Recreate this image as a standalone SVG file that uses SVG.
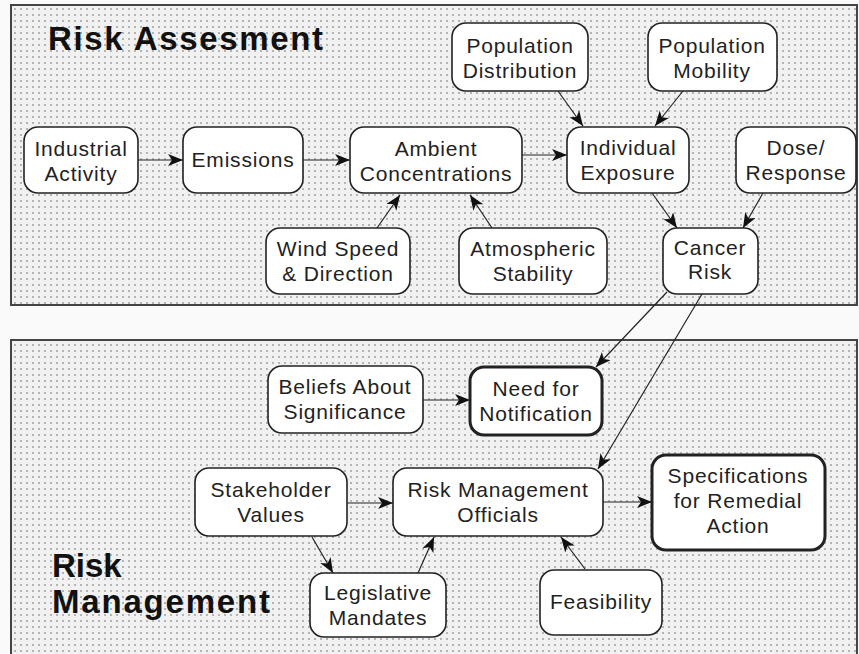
<svg xmlns="http://www.w3.org/2000/svg" width="859" height="654" viewBox="0 0 859 654">
  <defs>
    <pattern id="dots" width="6" height="6" patternUnits="userSpaceOnUse">
      <rect width="6" height="6" fill="#f1f1f1"/>
      <circle cx="3" cy="3" r="0.8" fill="#666"/>
    </pattern>
    <marker id="arrow" markerUnits="userSpaceOnUse" markerWidth="16" markerHeight="13" refX="15" refY="6" orient="auto">
      <path d="M0,0 L15,6 L0,12 L4,6 z" fill="#111"/>
    </marker>
    <style>
      .panel { fill: url(#dots); stroke: #444; stroke-width: 2; }
      .node { fill: #fff; stroke: #222; stroke-width: 1.6; }
      .node.bold { stroke-width: 3; }
      .lbl { font-family: "Liberation Sans", Arial, sans-serif; font-size: 21px; letter-spacing: 0.8px; fill: #222; text-anchor: middle; }
      .title { font-family: "Liberation Sans", Arial, sans-serif; font-size: 33px; font-weight: bold; fill: #111; }
      .edge { stroke: #222; stroke-width: 1.2; fill: none; marker-end: url(#arrow); }
    </style>
  </defs>

  <rect width="859" height="654" fill="#fafafa"/>

  <!-- panels -->
  <rect class="panel" x="11" y="5" width="846" height="300"/>
  <rect class="panel" x="11" y="340" width="846" height="320"/>

  <text class="title" x="48" y="50" textLength="275" lengthAdjust="spacing">Risk Assesment</text>
  <text class="title" x="52" y="577">Risk</text>
  <text class="title" x="52" y="613" textLength="218" lengthAdjust="spacing">Management</text>

  <!-- connectors -->
  <g id="connectors">
    <line class="edge" x1="138" y1="160" x2="183" y2="160"/>
    <line class="edge" x1="303" y1="160" x2="350" y2="160"/>
    <line class="edge" x1="522" y1="155" x2="567" y2="155"/>
    <line class="edge" x1="377" y1="228" x2="400" y2="195"/>
    <line class="edge" x1="492" y1="228" x2="470" y2="195"/>
    <line class="edge" x1="558" y1="91" x2="583" y2="126"/>
    <line class="edge" x1="683" y1="91" x2="655" y2="126"/>
    <line class="edge" x1="652" y1="193" x2="677" y2="228"/>
    <line class="edge" x1="763" y1="193" x2="743" y2="228"/>
    <line class="edge" x1="667" y1="292" x2="596" y2="367"/>
    <line class="edge" x1="702" y1="294" x2="598" y2="469"/>
    <line class="edge" x1="423" y1="400" x2="470" y2="400"/>
    <line class="edge" x1="347" y1="503" x2="393" y2="503"/>
    <line class="edge" x1="603" y1="502" x2="652" y2="502"/>
    <line class="edge" x1="312" y1="537" x2="333" y2="573"/>
    <line class="edge" x1="418" y1="573" x2="434" y2="537"/>
    <line class="edge" x1="585" y1="569" x2="561" y2="537"/>
  </g>

  <!-- risk assessment nodes -->
  <g id="industrial-activity">
    <rect class="node" x="24" y="127" width="114" height="66" rx="14"/>
    <text class="lbl" x="81" y="156">Industrial</text>
    <text class="lbl" x="81" y="181">Activity</text>
  </g>
  <g id="emissions">
    <rect class="node" x="183" y="127" width="120" height="66" rx="14"/>
    <text class="lbl" x="243" y="167">Emissions</text>
  </g>
  <g id="ambient-concentrations">
    <rect class="node" x="350" y="127" width="172" height="66" rx="14"/>
    <text class="lbl" x="436" y="156">Ambient</text>
    <text class="lbl" x="436" y="181">Concentrations</text>
  </g>
  <g id="population-distribution">
    <rect class="node" x="452" y="23" width="136" height="68" rx="14"/>
    <text class="lbl" x="520" y="53">Population</text>
    <text class="lbl" x="520" y="78">Distribution</text>
  </g>
  <g id="population-mobility">
    <rect class="node" x="648" y="23" width="129" height="68" rx="14"/>
    <text class="lbl" x="712" y="53">Population</text>
    <text class="lbl" x="712" y="78">Mobility</text>
  </g>
  <g id="individual-exposure">
    <rect class="node" x="567" y="127" width="122" height="66" rx="14"/>
    <text class="lbl" x="628" y="155">Individual</text>
    <text class="lbl" x="628" y="180">Exposure</text>
  </g>
  <g id="dose-response">
    <rect class="node" x="736" y="127" width="120" height="66" rx="14"/>
    <text class="lbl" x="796" y="155">Dose/</text>
    <text class="lbl" x="796" y="180">Response</text>
  </g>
  <g id="wind-speed">
    <rect class="node" x="266" y="228" width="144" height="66" rx="14"/>
    <text class="lbl" x="338" y="256">Wind Speed</text>
    <text class="lbl" x="338" y="281">&amp; Direction</text>
  </g>
  <g id="atmospheric-stability">
    <rect class="node" x="459" y="228" width="148" height="66" rx="14"/>
    <text class="lbl" x="533" y="256">Atmospheric</text>
    <text class="lbl" x="533" y="281">Stability</text>
  </g>
  <g id="cancer-risk">
    <rect class="node" x="663" y="228" width="95" height="66" rx="14"/>
    <text class="lbl" x="710" y="255">Cancer</text>
    <text class="lbl" x="710" y="279">Risk</text>
  </g>

  <!-- risk management nodes -->
  <g id="beliefs-about-significance">
    <rect class="node" x="268" y="366" width="155" height="67" rx="14"/>
    <text class="lbl" x="345" y="394">Beliefs About</text>
    <text class="lbl" x="345" y="419">Significance</text>
  </g>
  <g id="need-for-notification">
    <rect class="node bold" x="470" y="367" width="132" height="68" rx="14"/>
    <text class="lbl" x="536" y="396">Need for</text>
    <text class="lbl" x="536" y="421">Notification</text>
  </g>
  <g id="stakeholder-values">
    <rect class="node" x="195" y="468" width="152" height="68" rx="14"/>
    <text class="lbl" x="271" y="497">Stakeholder</text>
    <text class="lbl" x="271" y="522">Values</text>
  </g>
  <g id="risk-management-officials">
    <rect class="node" x="393" y="468" width="210" height="68" rx="14"/>
    <text class="lbl" x="498" y="497">Risk Management</text>
    <text class="lbl" x="498" y="522">Officials</text>
  </g>
  <g id="specifications-remedial-action">
    <rect class="node bold" x="652" y="455" width="173" height="95" rx="14"/>
    <text class="lbl" x="738" y="483">Specifications</text>
    <text class="lbl" x="738" y="508">for Remedial</text>
    <text class="lbl" x="738" y="533">Action</text>
  </g>
  <g id="legislative-mandates">
    <rect class="node" x="310" y="573" width="136" height="64" rx="14"/>
    <text class="lbl" x="378" y="600">Legislative</text>
    <text class="lbl" x="378" y="625">Mandates</text>
  </g>
  <g id="feasibility">
    <rect class="node" x="540" y="570" width="122" height="65" rx="14"/>
    <text class="lbl" x="601" y="609">Feasibility</text>
  </g>
</svg>
